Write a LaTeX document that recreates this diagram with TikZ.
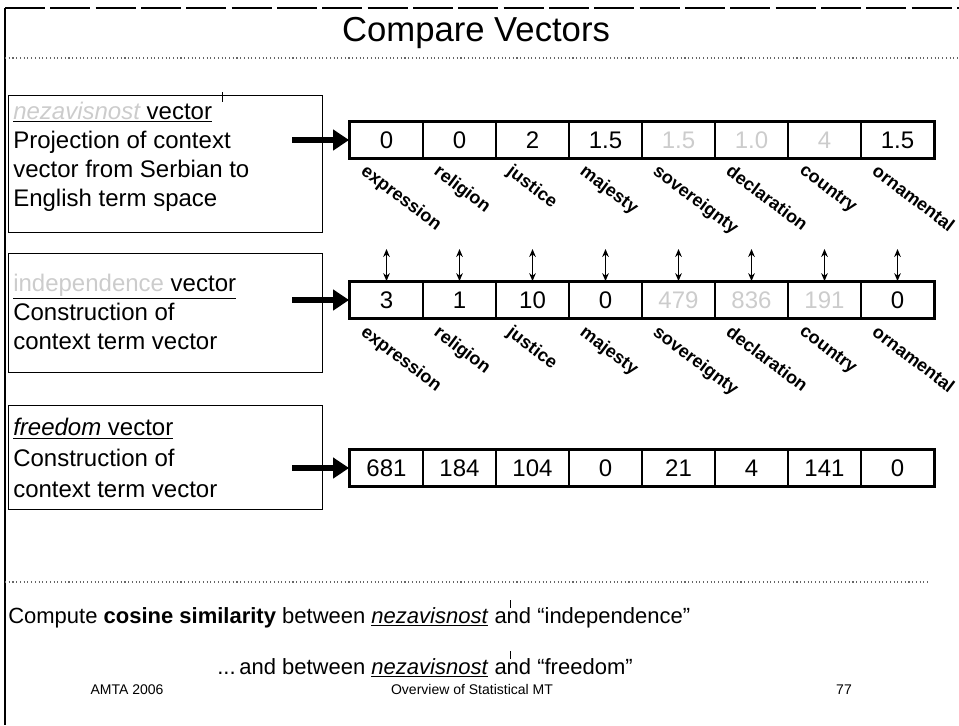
\documentclass[tikz,border=0pt]{standalone}
\usepackage{fontspec}
\setmainfont{Liberation Sans}
\usetikzlibrary{arrows.meta}

\begin{document}
\begin{tikzpicture}[x=0.75pt,y=-0.75pt,
  every node/.style={inner sep=0pt},
  panel/.style={draw=black,line width=1.1pt},
  body/.style={font=\fontsize{18}{21.75}\selectfont,anchor=north west,align=left},
  cell/.style={draw=black,line width=1.3pt,minimum width=54.75pt,minimum height=27pt,font=\fontsize{18}{20}\selectfont},
  faded/.style={text=black!20},
  term/.style={font=\bfseries\fontsize{13.5}{15}\selectfont,rotate=-37,anchor=north west},
  bigarrow/.style={line width=4pt,-{Triangle[length=12pt,width=15pt]}},
  link/.style={line width=0.9pt,{Stealth[length=6pt,width=5pt]}-{Stealth[length=6pt,width=5pt]}},
  tick/.style={line width=0.6pt},
  rule/.style={line width=0.8pt,dotted,black!60},
  closing/.style={font=\fontsize{16.5}{20}\selectfont,anchor=base west},
  footer/.style={font=\fontsize{10.5}{12}\selectfont,anchor=base},
]
\useasboundingbox (0,0) rectangle (959,725);

% slide frame and title
\draw[line width=1pt,dash pattern=on 30pt off 4pt] (5,8) -- (959,8);
\draw[line width=1pt] (5,8) -- (5,725);
\node[font=\fontsize{26}{30}\selectfont] (title) at (476,33) {Compare Vectors};
\draw[rule] (5,58) -- (959,58);

% description panels
\node[panel,anchor=north west,minimum width=235.5pt,minimum height=102.75pt] (b1) at (8,95) {};
\node[panel,anchor=north west,minimum width=235.5pt,minimum height=89.25pt] (b2) at (8,253) {};
\node[panel,anchor=north west,minimum width=235.5pt,minimum height=78pt] (b3) at (8,405) {};

\node[body] (t1) at (13,102) {\underline{\textcolor{black!20}{\itshape nezavisnost} vector}\\
  Projection of context\\vector from Serbian to\\English term space};
\node[body] (t2) at (13,274) {\underline{\textcolor{black!20}{independence} vector}\\
  Construction of\\context term vector};
\node[body,font=\fontsize{18}{23.25}\selectfont] (t3) at (13,418) {\underline{\textit{freedom} vector}\\
  Construction of\\context term vector};

% vector rows
\foreach \v/\s [count=\i] in {0/,0/,2/,1.5/,1.5/faded,1.0/faded,4/faded,1.5/}
  \node[cell,\s] (r1c\i) at ({386.5+73*(\i-1)},140) {\v};
\foreach \v/\s [count=\i] in {3/,1/,10/,0/,479/faded,836/faded,191/faded,0/}
  \node[cell,\s] (r2c\i) at ({386.5+73*(\i-1)},300) {\v};
\foreach \v [count=\i] in {681,184,104,0,21,4,141,0}
  \node[cell] (r3c\i) at ({386.5+73*(\i-1)},468) {\v};
\foreach \r in {1,2,3}
  \draw[line width=2pt] (r\r c1.north west) rectangle (r\r c8.south east);

% term labels under the first two rows
\foreach \r/\y in {1/163,2/324}
  \foreach \w [count=\i] in {expression,religion,justice,majesty,sovereignty,declaration,country,ornamental}
    \node[term] (t\r w\i) at ({368+73*(\i-1)},\y) {\w};

% links between the first two rows
\foreach \i in {1,...,8} {
  \coordinate (u\i) at ({386.5+73*(\i-1)},249);
  \draw[link] (u\i) -- (r2c\i.north);
}

% arrows from the panels into the rows
\coordinate (a1) at (292,140);
\coordinate (a2) at (292,300);
\coordinate (a3) at (292,468);
\draw[bigarrow] (a1) -- (r1c1.west);
\draw[bigarrow] (a2) -- (r2c1.west);
\draw[bigarrow] (a3) -- (r3c1.west);

% conclusion: both lines share the position of "nezavisnost"
\draw[rule] (5,582) -- (930,582);
\node[closing] (c1) at (8,623)
  {Compute \textbf{cosine similarity} between \underline{\textit{nezavisnost}} and “independence”};
\node[closing] (c2) at (8,674)
  {\phantom{Compute \textbf{cosine similarity} between }\llap{...\,and between }\underline{\textit{nezavisnost}} and “freedom”};

% small marks
\draw[tick] (222,92) -- (222,102);
\draw[tick] (510,600) -- (510,608);
\draw[tick] (510,651) -- (510,659);

% footer
\node[footer] (f1) at (127,694) {AMTA 2006};
\node[footer] (f2) at (472,694) {Overview of Statistical MT};
\node[footer] (f3) at (844,694) {77};
\end{tikzpicture}
\end{document}
